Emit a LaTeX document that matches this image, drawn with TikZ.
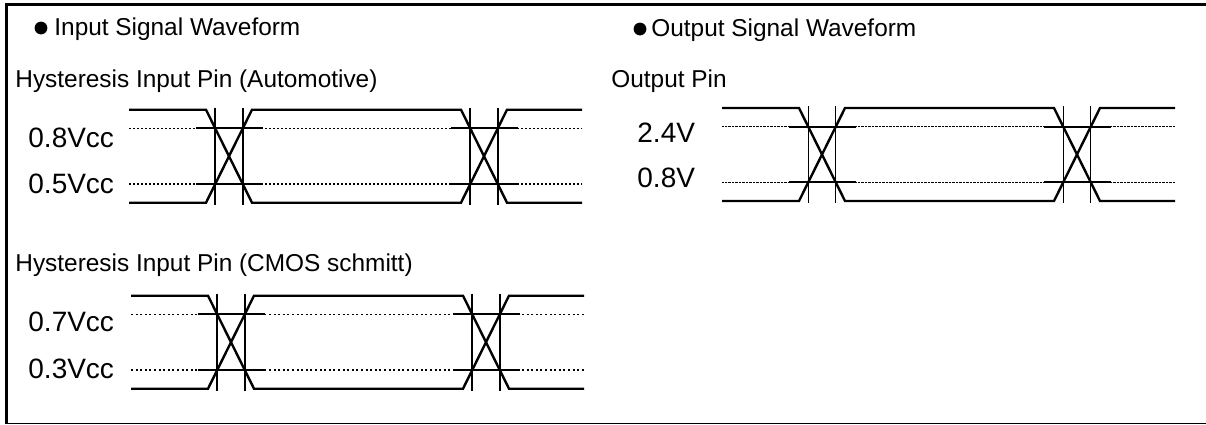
\documentclass[tikz,border=0pt]{standalone}
\usepackage{fontspec}
\setmainfont{Liberation Sans}
\usetikzlibrary{positioning}

% one waveform panel: origin x, origin y, level style, marker style
\newcommand{\wavepanel}[4]{%
  \begin{scope}[shift={(#1,#2)}]
    \draw[#3] (0,18.6) -- (453,18.6);
    \draw[#3] (0,74.4) -- (453,74.4);
    \draw[sigline] (0,0) -- (77,0) -- (123,93) -- (332,93) -- (378,0) -- (453,0);
    \draw[sigline] (0,93) -- (77,93) -- (123,0) -- (332,0) -- (378,93) -- (453,93);
    \draw[vline] (67,18.6) -- (134,18.6);
    \draw[vline] (67,74.4) -- (134,74.4);
    \draw[vline] (322,18.6) -- (389,18.6);
    \draw[vline] (322,74.4) -- (389,74.4);
    \draw[#4] (86.2,-2) -- (86.2,95);
    \draw[#4] (113.8,-2) -- (113.8,95);
    \draw[#4] (341.2,-2) -- (341.2,95);
    \draw[#4] (368.8,-2) -- (368.8,95);
  \end{scope}}

\begin{document}
\begin{tikzpicture}[x=0.5pt, y=-0.5pt,
  sigline/.style={line width=1.2pt},
  vline/.style={line width=1pt},
  vthin/.style={line width=0.6pt},
  lvlauto/.style={line width=0.7pt, dash pattern=on 1.2pt off 0.8pt},
  lvlcmos/.style={line width=0.7pt, dash pattern=on 1pt off 1.3pt},
  lvlout/.style={line width=0.55pt, dash pattern=on 0.4pt off 0.3pt},
  dot/.style={circle, fill, inner sep=0pt, minimum size=6.4pt},
  title/.style={anchor=base west, inner sep=0pt, font=\fontsize{12.2}{14}\selectfont},
  level/.style={anchor=base west, inner sep=0pt, font=\fontsize{14}{16}\selectfont}]
\useasboundingbox (0,0) rectangle (1206,424);

% frame
\draw[line width=1.75pt] (6.5,3.2) -- (6.5,423.3);
\draw[line width=1.5pt] (5,4.7) -- (1206,4.7);
\draw[line width=0.6pt] (5,423.3) -- (1206,423.3);

% input side
\node[dot] (dotin) at (41,28) {};
\node[title] (ttlin) at (54,35) {Input Signal Waveform};
\node[title] (pinauto) at (15,87) {Hysteresis Input Pin (Automotive)};
\node[level] (auhi) at (28,147) {0.8Vcc};
\node[level] (aulo) at (28,193) {0.5Vcc};
\wavepanel{129}{109.7}{lvlauto}{vline}

\node[title] (pincmos) at (15,271) {Hysteresis Input Pin (CMOS schmitt)};
\node[level] (cmhi) at (28,331) {0.7Vcc};
\node[level] (cmlo) at (28,378) {0.3Vcc};
\wavepanel{131}{295.7}{lvlcmos}{vline}

% output side
\node[dot] (dotout) at (640,29) {};
\node[title] (ttlout) at (651,36) {Output Signal Waveform};
\node[title] (pinout) at (611,87) {Output Pin};
\node[level] (outhi) at (637,142) {2.4V};
\node[level] (outlo) at (637,187) {0.8V};
\wavepanel{722}{108}{lvlout}{vthin}
\end{tikzpicture}
\end{document}
